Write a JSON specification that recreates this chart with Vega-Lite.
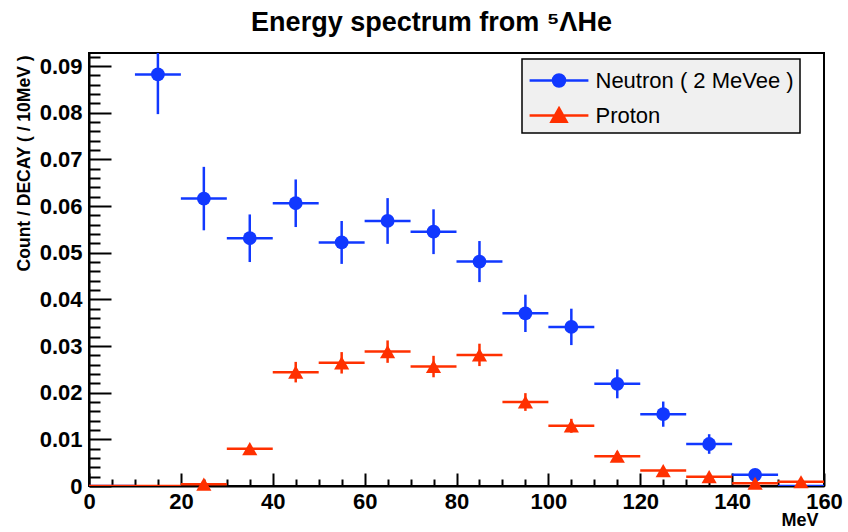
{
  "$schema": "https://vega.github.io/schema/vega-lite/v6.json",
  "width": 735,
  "height": 433,
  "autosize": {"type": "none"},
  "padding": {"left": 89, "top": 53, "right": 24, "bottom": 46},
  "background": "white",
  "title": {
    "text": "Energy spectrum from ⁵ΛHe",
    "font": "Liberation Sans",
    "fontSize": 27,
    "fontWeight": "bold",
    "color": "black",
    "anchor": "middle",
    "dx": -25,
    "baseline": "alphabetic",
    "offset": -5
  },
  "config": {
    "view": {"stroke": "black", "strokeWidth": 2},
    "legend": {"strokeWidth": 1.5}
  },
  "resolve": {"axis": {"x": "independent", "y": "independent"}},
  "data": {
    "values": [
      {"s": "Neutron ( 2 MeVee )", "x": 5, "xlo": 0, "xhi": 10, "y": 0, "ylo": 0, "yhi": 0},
      {"s": "Neutron ( 2 MeVee )", "x": 15, "xlo": 10, "xhi": 20, "y": 0.0882, "ylo": 0.0797, "yhi": 0.0967},
      {"s": "Neutron ( 2 MeVee )", "x": 25, "xlo": 20, "xhi": 30, "y": 0.0616, "ylo": 0.0548, "yhi": 0.0684},
      {"s": "Neutron ( 2 MeVee )", "x": 35, "xlo": 30, "xhi": 40, "y": 0.0531, "ylo": 0.0480, "yhi": 0.0582},
      {"s": "Neutron ( 2 MeVee )", "x": 45, "xlo": 40, "xhi": 50, "y": 0.0606, "ylo": 0.0555, "yhi": 0.0657},
      {"s": "Neutron ( 2 MeVee )", "x": 55, "xlo": 50, "xhi": 60, "y": 0.0522, "ylo": 0.0476, "yhi": 0.0568},
      {"s": "Neutron ( 2 MeVee )", "x": 65, "xlo": 60, "xhi": 70, "y": 0.0568, "ylo": 0.0519, "yhi": 0.0617},
      {"s": "Neutron ( 2 MeVee )", "x": 75, "xlo": 70, "xhi": 80, "y": 0.0545, "ylo": 0.0497, "yhi": 0.0593},
      {"s": "Neutron ( 2 MeVee )", "x": 85, "xlo": 80, "xhi": 90, "y": 0.0481, "ylo": 0.0437, "yhi": 0.0525},
      {"s": "Neutron ( 2 MeVee )", "x": 95, "xlo": 90, "xhi": 100, "y": 0.0370, "ylo": 0.0330, "yhi": 0.0410},
      {"s": "Neutron ( 2 MeVee )", "x": 105, "xlo": 100, "xhi": 110, "y": 0.0341, "ylo": 0.0302, "yhi": 0.0380},
      {"s": "Neutron ( 2 MeVee )", "x": 115, "xlo": 110, "xhi": 120, "y": 0.0219, "ylo": 0.0188, "yhi": 0.0250},
      {"s": "Neutron ( 2 MeVee )", "x": 125, "xlo": 120, "xhi": 130, "y": 0.0154, "ylo": 0.0127, "yhi": 0.0181},
      {"s": "Neutron ( 2 MeVee )", "x": 135, "xlo": 130, "xhi": 140, "y": 0.0090, "ylo": 0.0069, "yhi": 0.0111},
      {"s": "Neutron ( 2 MeVee )", "x": 145, "xlo": 140, "xhi": 150, "y": 0.0024, "ylo": 0.0014, "yhi": 0.0034},
      {"s": "Neutron ( 2 MeVee )", "x": 155, "xlo": 150, "xhi": 160, "y": 0, "ylo": 0, "yhi": 0},
      {"s": "Proton", "x": 5, "xlo": 0, "xhi": 10, "y": 0, "ylo": 0, "yhi": 0},
      {"s": "Proton", "x": 15, "xlo": 10, "xhi": 20, "y": 0, "ylo": 0, "yhi": 0},
      {"s": "Proton", "x": 25, "xlo": 20, "xhi": 30, "y": 0.0004, "ylo": 0.0002, "yhi": 0.0006},
      {"s": "Proton", "x": 35, "xlo": 30, "xhi": 40, "y": 0.0080, "ylo": 0.0072, "yhi": 0.0088},
      {"s": "Proton", "x": 45, "xlo": 40, "xhi": 50, "y": 0.0244, "ylo": 0.0222, "yhi": 0.0266},
      {"s": "Proton", "x": 55, "xlo": 50, "xhi": 60, "y": 0.0264, "ylo": 0.0241, "yhi": 0.0287},
      {"s": "Proton", "x": 65, "xlo": 60, "xhi": 70, "y": 0.0288, "ylo": 0.0264, "yhi": 0.0312},
      {"s": "Proton", "x": 75, "xlo": 70, "xhi": 80, "y": 0.0256, "ylo": 0.0233, "yhi": 0.0279},
      {"s": "Proton", "x": 85, "xlo": 80, "xhi": 90, "y": 0.0281, "ylo": 0.0257, "yhi": 0.0305},
      {"s": "Proton", "x": 95, "xlo": 90, "xhi": 100, "y": 0.0180, "ylo": 0.0161, "yhi": 0.0199},
      {"s": "Proton", "x": 105, "xlo": 100, "xhi": 110, "y": 0.0129, "ylo": 0.0114, "yhi": 0.0144},
      {"s": "Proton", "x": 115, "xlo": 110, "xhi": 120, "y": 0.0064, "ylo": 0.0054, "yhi": 0.0074},
      {"s": "Proton", "x": 125, "xlo": 120, "xhi": 130, "y": 0.0033, "ylo": 0.0026, "yhi": 0.0040},
      {"s": "Proton", "x": 135, "xlo": 130, "xhi": 140, "y": 0.0020, "ylo": 0.0014, "yhi": 0.0026},
      {"s": "Proton", "x": 145, "xlo": 140, "xhi": 150, "y": 0.0006, "ylo": 0.0003, "yhi": 0.0009},
      {"s": "Proton", "x": 155, "xlo": 150, "xhi": 160, "y": 0.0009, "ylo": 0.0006, "yhi": 0.0012}
    ]
  },
  "encoding": {
    "color": {
      "field": "s",
      "type": "nominal",
      "scale": {"domain": ["Neutron ( 2 MeVee )", "Proton"], "range": ["#1138ff", "#ff3000"]},
      "legend": {
        "orient": "none",
        "legendX": 433,
        "legendY": 6,
        "title": null,
        "padding": 6,
        "fillColor": "#f0f0f0",
        "strokeColor": "black",
        "symbolSize": 784,
        "symbolOffset": 15.5,
        "labelOffset": 21,
        "rowPadding": 8,
        "labelFont": "Liberation Sans",
        "labelFontSize": 22,
        "labelColor": "black",
        "labelLimit": 0,
        "labelExpr": "datum.label + '\u00a0\u00a0\u00a0\u00a0'",
        "encode": {
          "symbols": {
            "update": {
              "shape": {"signal": "datum.value === 'Proton' ? 'M-2.1,0H2.1M0,-0.52L0.54,0.45L-0.54,0.45Z' : 'M-2.1,0H2.1M-0.43,0A0.43,0.43,0,1,1,0.43,0A0.43,0.43,0,1,1,-0.43,0Z'"},
              "stroke": {"signal": "datum.value === 'Proton' ? '#ff3000' : '#1138ff'"},
              "fill": {"signal": "datum.value === 'Proton' ? '#ff3000' : '#1138ff'"},
              "strokeWidth": {"value": 2.5},
              "size": {"value": 784},
              "opacity": {"value": 1}
            }
          }
        }
      }
    }
  },
  "layer": [
    {
      "mark": {"type": "rule", "strokeWidth": 2.5, "clip": true},
      "encoding": {
        "x": {
          "field": "xlo",
          "type": "quantitative",
          "scale": {"domain": [0, 160], "nice": false, "zero": false},
          "axis": {
            "orient": "bottom",
            "title": "MeV",
            "values": [0, 20, 40, 60, 80, 100, 120, 140, 160],
            "tickSize": -13,
            "format": "d",
            "labelFont": "Liberation Sans",
            "labelFontSize": 22,
            "labelFontWeight": "bold",
            "labelColor": "black",
            "labelPadding": 18,
            "labelFlush": false,
            "labelOverlap": false,
            "labelBound": false,
            "domainColor": "black",
            "domainWidth": 2,
            "tickColor": "black",
            "tickWidth": 2,
            "grid": false,
            "titleFont": "Liberation Sans",
            "titleFontSize": 18,
            "titleFontWeight": "bold",
            "titleColor": "black",
            "titleAnchor": "end",
            "titleAlign": "right",
            "titleX": 729,
            "titleY": 39,
            "titleBaseline": "alphabetic"
          }
        },
        "x2": {"field": "xhi"},
        "y": {
          "field": "y",
          "type": "quantitative",
          "scale": {"domain": [0, 0.0928], "nice": false, "zero": false},
          "axis": {
            "orient": "left",
            "title": "Count / DECAY ( / 10MeV )",
            "values": [0, 0.01, 0.02, 0.03, 0.04, 0.05, 0.06, 0.07, 0.08, 0.09],
            "tickSize": -22,
            "labelExpr": "datum.value === 0 ? '0' : format(datum.value, '.2f')",
            "labelFont": "Liberation Sans",
            "labelFontSize": 22,
            "labelFontWeight": "bold",
            "labelColor": "black",
            "labelPadding": 29,
            "labelOverlap": false,
            "labelBound": false,
            "labelFlush": false,
            "domainColor": "black",
            "domainWidth": 2,
            "tickColor": "black",
            "tickWidth": 2,
            "grid": false,
            "titleFont": "Liberation Sans",
            "titleFontSize": 17.5,
            "titleFontWeight": "bold",
            "titleColor": "black",
            "titleAngle": -90,
            "titleAlign": "right",
            "titleBaseline": "middle",
            "titleX": -65,
            "titleY": 2
          }
        }
      }
    },
    {
      "mark": {"type": "rule", "strokeWidth": 2.5, "clip": true},
      "encoding": {
        "x": {
          "field": "x",
          "type": "quantitative",
          "axis": {
            "orient": "bottom",
            "title": null,
            "values": [5,10,15,25,30,35,45,50,55,65,70,75,85,90,95,105,110,115,125,130,135,145,150,155],
            "tickSize": -7,
            "labels": false,
            "domain": false,
            "tickColor": "black",
            "tickWidth": 2,
            "grid": false
          }
        },
        "y": {
          "field": "ylo",
          "type": "quantitative",
          "axis": {
            "orient": "left",
            "title": null,
            "values": [0.002,0.004,0.006,0.008,0.012,0.014,0.016,0.018,0.022,0.024,0.026,0.028,0.032,0.034,0.036,0.038,0.042,0.044,0.046,0.048,0.052,0.054,0.056,0.058,0.062,0.064,0.066,0.068,0.072,0.074,0.076,0.078,0.082,0.084,0.086,0.088,0.092],
            "tickSize": -11,
            "labels": false,
            "domain": false,
            "tickColor": "black",
            "tickWidth": 2,
            "grid": false
          }
        },
        "y2": {"field": "yhi"}
      }
    },
    {
      "transform": [{"filter": "datum.y > 0 && datum.s !== 'Proton'"}],
      "mark": {"type": "point", "shape": "circle", "size": 190, "filled": true, "opacity": 1, "strokeWidth": 0},
      "encoding": {
        "x": {"field": "x", "type": "quantitative", "axis": null},
        "y": {"field": "y", "type": "quantitative", "axis": null}
      }
    },
    {
      "transform": [{"filter": "datum.y > 0 && datum.s === 'Proton'"}],
      "mark": {"type": "point", "shape": "triangle-up", "size": 230, "filled": true, "opacity": 1, "strokeWidth": 0},
      "encoding": {
        "x": {"field": "x", "type": "quantitative", "axis": null},
        "y": {"field": "y", "type": "quantitative", "axis": null}
      }
    }
  ]
}
